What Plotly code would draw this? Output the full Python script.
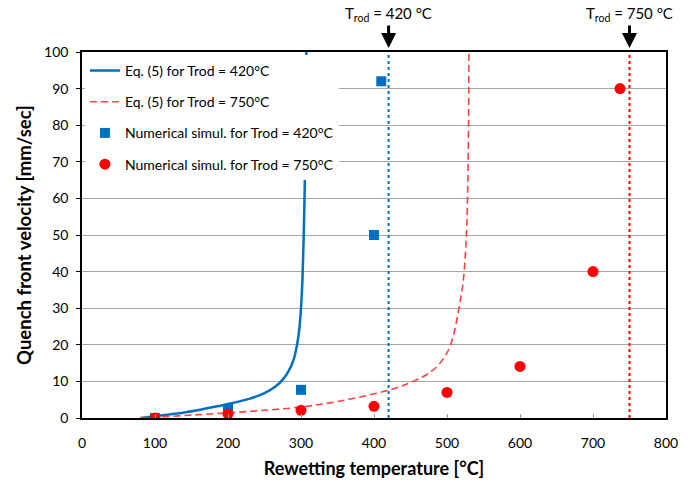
import plotly.graph_objects as go

# Eq. (5) curves (rewetting temperature [°C] vs quench front velocity [mm/s])
eq420_T = [80, 100, 130, 160, 200, 230, 250, 265, 275, 283, 290, 295, 298, 300, 302, 303.5, 305, 306, 306.8, 307.3]
eq420_v = [0, 0.5, 1.2, 2.2, 3.8, 5.3, 6.8, 8.6, 10.5, 12.8, 16, 20.5, 25, 30, 38, 48, 62, 75, 88, 100]

eq750_T = [80, 100, 150, 200, 250, 300, 350, 400, 430, 450, 470, 486, 497, 504, 510, 515, 519, 522, 525, 527, 528.5, 529.5, 530]
eq750_v = [0, 0.2, 0.8, 1.4, 2.1, 3.0, 4.5, 6.6, 8.2, 9.7, 11.6, 14, 16.8, 19.5, 23.5, 28.5, 33, 37, 44, 52, 64, 80, 100]

# Numerical simulation results
sim420_T = [100, 200, 300, 400, 410]
sim420_v = [0, 2.5, 7.7, 50, 92]

sim750_T = [100, 200, 300, 400, 500, 600, 700, 737]
sim750_v = [0, 1.1, 2.1, 3.2, 7.0, 14.1, 40, 90]

# Rod temperatures
rod_temps = [420, 750]

x_ticks = [0, 100, 200, 300, 400, 500, 600, 700, 800]
y_ticks = [0, 10, 20, 30, 40, 50, 60, 70, 80, 90, 100]

FONT = "Lato"
BLUE = "#0070c0"
RED = "#ff0000"

fig = go.Figure()

fig.add_trace(go.Scatter(
    x=eq420_T, y=eq420_v, mode="lines", line=dict(color=BLUE, width=2.5, shape="spline"),
    name="Eq. (5) for Trod = 420°C", legendgroup="a"))
fig.add_trace(go.Scatter(
    x=eq750_T, y=eq750_v, mode="lines",
    line=dict(color="#ff4040", width=1.6, dash="7px,4px", shape="spline"),
    name="Eq. (5) for Trod = 750°C", legendgroup="b"))
fig.add_trace(go.Scatter(
    x=sim420_T, y=sim420_v, mode="markers",
    marker=dict(symbol="square", color=BLUE, size=10),
    name="Numerical simul. for Trod = 420°C", legendgroup="c"))
fig.add_trace(go.Scatter(
    x=sim750_T, y=sim750_v, mode="markers",
    marker=dict(symbol="circle", color=RED, size=11),
    name="Numerical simul. for Trod = 750°C", legendgroup="d"))

# Vertical dotted lines at the rod temperatures, with arrow labels above
for t, c in zip(rod_temps, [BLUE, RED]):
    fig.add_shape(type="line", xref="x", yref="paper", x0=t, x1=t, y0=0, y1=1,
                  line=dict(color=c, width=2, dash="dot"), layer="above")
    fig.add_annotation(
        x=t, y=1.011, xref="x", yref="paper",
        text=f"T<sub>rod</sub> = {t} °C", showarrow=True,
        arrowhead=2, arrowsize=1, arrowwidth=3, arrowcolor="black",
        ax=0, ay=-34, font=dict(family=FONT, size=15, color="black"))

fig.update_layout(
    width=693, height=487,
    margin=dict(l=82, r=27, t=52, b=69),
    paper_bgcolor="white", plot_bgcolor="white",
    font=dict(family=FONT, size=14, color="black"),
    showlegend=True,
    legend=dict(x=0.005, y=0.992, xanchor="left", yanchor="top",
                bgcolor="white", borderwidth=0, tracegroupgap=10,
                font=dict(family=FONT, size=14, color="black")),
    xaxis=dict(range=[0, 800], tickvals=x_ticks, ticks="inside", ticklen=4,
               tickcolor="#a0a0a0", showgrid=False, zeroline=False,
               showline=True, linecolor="black", linewidth=1.5, mirror=True,
               tickfont=dict(size=14), ticklabelstandoff=11,
               title=dict(text="<b>Rewetting temperature [°C]</b>",
                          font=dict(size=18), standoff=13)),
    yaxis=dict(range=[0, 100], tickvals=y_ticks, ticks="outside", ticklen=4,
               tickcolor="black", showgrid=True, gridcolor="#a6a6a6", gridwidth=1,
               zeroline=False, showline=True, linecolor="black", linewidth=1.5,
               mirror=True, tickfont=dict(size=14), ticklabelstandoff=5,
               title=dict(text="<b>Quench front velocity [mm/sec]</b>",
                          font=dict(size=18.5), standoff=8)),
)

fig.write_html("out.html")
